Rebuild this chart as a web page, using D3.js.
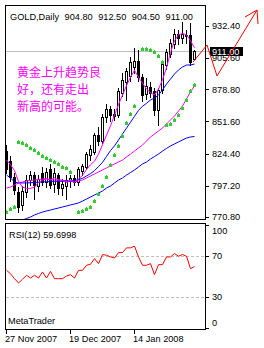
<!DOCTYPE html>
<html>
<head>
<meta charset="utf-8">
<script src="https://cdn.jsdelivr.net/npm/d3@7"></script>
<style>
body { margin: 0; background: #fff; }
svg { display: block; }
</style>
</head>
<body>
<script>
// daily gold bars, 27 Nov 2007 .. 4 Feb 2008
const opens  = [827,818,805,792,781,792,802,806,797,808,800,811,799,806,795,797,801,804,800,810,813,823,826,840,835,855,862,858,857,876,885,890,898,903,889,875,881,877,861,878,899,909,917,926,922,924,925,904.8];
const highs  = [832,822,808,796,797,806,810,809,806,813,812,816,812,808,803,806,806,806,813,816,826,832,842,847,858,866,865,862,880,893,897,906,914,912,892,888,885,880,880,903,913,921,930,929,936,929,935,912.5];
const lows   = [808,801,790,775,777,788,798,786,793,798,796,795,792,790,789,786,796,798,798,806,811,819,824,832,833,851,852,853,855,873,870,886,893,886,869,871,872,857,849,876,896,906,914,917,918,918,899,904.5];
const closes = [811,805,794,779,793,802,806,798,803,800,809,798,808,795,799,802,804,800,811,814,824,828,840,835,855,862,857,856,877,887,894,902,903,889,874,882,876,861,878,900,910,918,926,922,926,925,902,911];

// moving averages as drawn
const maFast = [819,815,810,801,796,795,795,796,800,802,803,802,804,802,802,800,802,800,803,806,811,815,818,824,832,840,848,857,866,874,882,889,895,889,884,879,876,874,879,887,897,910,920,925,926,925,920,914];
const maMid  = [806.3,803.8,800.4,799.6,799.6,799.6,799.8,800,800.2,800.4,800.6,800.8,801,801,801,801.2,801.4,801.6,802.5,803.5,805.5,807.5,810,813.5,817,822,827,831,836,841,846,851,856,861,864.5,867,869.8,871.5,874,878.3,883.3,887.5,891.8,895.2,897.7,899.4,899.4,900.2];
const maSlow = [795.3,796.2,797.9,799.6,800.4,801.3,801.7,802.1,802.5,803,803,802.5,802.1,802.1,801.7,801.3,800.9,800.4,801.3,802.1,803.8,805.5,807.2,808.9,810.6,812.3,814,815.7,817.3,819,821.6,824.1,826.6,829.2,831.7,835.1,838.5,841,843.6,846.1,849.5,852.9,856.3,860.5,864.7,870.6,876.6,881.6];
const maLong = [764,765.7,766.6,767.4,768.3,769.5,770.8,772.5,773.8,775,775.9,776.7,777.6,778.4,779.3,780.1,781,781.8,782.7,784.3,786,787.7,789.4,791.1,792.8,795.3,797,799.6,802.1,803.8,806.3,808.4,810.6,813.1,815.7,817.3,819.9,822,824.1,826.6,828.8,830.9,832.6,834.3,836,837.6,838.5,838.9];

// parabolic SAR dots (null = none visible)
const sar = [775,777.6,779.3,834.5,833.7,831.7,829.2,827.5,825,822.4,820.7,819,817.3,815.7,813.1,812.3,808.9,null,775,775.9,777.6,779.3,784.3,790.3,797,804.7,814.8,823.3,830.9,839.3,850.3,857.9,864.7,null,912.9,912.9,912.1,910.4,907,901.9,848.6,849.5,852.9,857.1,863,869.8,877.4,882.5];

// RSI(12)
const rsi = [56,52.7,47.9,43.7,47.3,51.2,48.5,51.2,48.5,54.4,48.5,55,47.9,47.9,47.9,50.5,51.8,48.5,56,56,60.9,61.9,67.4,62.5,71.3,70.7,69,68,73.2,73.2,77.8,77.8,79.5,69,60.9,60.9,62.5,51.8,61.5,61.5,69,69,72.3,69.7,71.3,69.7,57.6,59.7];

const priceTicks = [932.40, 905.60, 878.80, 851.60, 824.40, 797.20, 770.80];
const rsiTicks = [100, 70, 30, 0];
const rsiLevels = [70, 30];
const dateTicks = [0, 16, 32];
const dateLabels = ["27 Nov 2007", "19 Dec 2007", "14 Jan 2008"];
const header = ["GOLD,Daily", "904.80", "912.50", "904.50", "911.00"];
const lastPrice = 911.00;
const note = ["黄金上升趋势良", "好，还有走出", "新高的可能。"];
// hand drawn arrow: [bar, price]
const arrow = [[46.75,901.9],[50.25,916.3],[52.75,890.1],[62.75,945.9]];
const arrowHead = [[59.75,940.0],[62.75,945.9],[63,934.1]];

const W = 264, H = 348;
const main = {l: 5.5, r: 205.5, t: 5.5, b: 219.5};
const sub = {t: 223.5, b: 329.5};

const x = d3.scaleLinear().domain([0, 47]).range([6, 194]);
const y = d3.scaleLinear().domain([770.8, 932.4]).range([217, 26]);
const yr = d3.scaleLinear().domain([0, 100]).range([328, 225]);
const px = v => Math.round(x(v));
const py = v => Math.round(y(v));

const svg = d3.select("body").append("svg")
    .attr("width", W)
    .attr("height", H)
    .style("font-family", "'Liberation Sans', Arial, sans-serif")
    .style("font-size", "9.2px");

const defs = svg.append("defs");
defs.append("clipPath").attr("id", "clipMain")
  .append("rect").attr("x", main.l + 0.5).attr("y", main.t + 0.5)
    .attr("width", main.r - main.l - 1).attr("height", main.b - main.t - 1);
defs.append("clipPath").attr("id", "clipSub")
  .append("rect").attr("x", main.l + 0.5).attr("y", sub.t + 0.5)
    .attr("width", main.r - main.l - 1).attr("height", sub.b - sub.t - 1);

// last price line
svg.append("line")
    .attr("x1", main.l).attr("x2", 210)
    .attr("y1", py(lastPrice) + 0.5).attr("y2", py(lastPrice) + 0.5)
    .attr("stroke", "#c0c0c0");

const bars = closes.map((c, i) => ({i, o: opens[i], h: highs[i], l: lows[i], c}));

const cg = svg.append("g")
    .attr("clip-path", "url(#clipMain)")
    .attr("shape-rendering", "crispEdges");

cg.selectAll("line")
  .data(bars)
  .join("line")
    .attr("x1", d => px(d.i) + 0.5)
    .attr("x2", d => px(d.i) + 0.5)
    .attr("y1", d => py(d.h))
    .attr("y2", d => py(d.l) + 1)
    .attr("stroke", "#000");

cg.selectAll("rect")
  .data(bars)
  .join("rect")
    .attr("x", d => px(d.i) - 0.5)
    .attr("width", 2)
    .attr("y", d => Math.min(py(d.o), py(d.c)) + 0.5)
    .attr("height", d => Math.max(1, Math.abs(py(d.o) - py(d.c))))
    .attr("fill", d => d.c >= d.o ? "#fff" : "#000")
    .attr("stroke", "#000");

// moving averages
const lg = svg.append("g")
    .attr("clip-path", "url(#clipMain)")
    .attr("fill", "none");

const maLine = d3.line()
    .x((v, i) => x(i) + 0.5)
    .y(v => y(v));

[[maLong, "#0000ff"], [maSlow, "#ff00ff"], [maMid, "#0000ff"], [maFast, "#ff00ff"]].forEach(([s, c]) => {
  lg.append("path")
      .attr("d", maLine(s))
      .attr("stroke", c)
      .attr("stroke-width", 1);
});

// SAR dots
svg.append("g")
    .attr("clip-path", "url(#clipMain)")
    .attr("shape-rendering", "crispEdges")
  .selectAll("path")
  .data(sar.map((v, i) => ({i, v})).filter(d => d.v != null))
  .join("path")
    .attr("d", d => {
      const X = px(d.i), Y = py(d.v);
      return `M${X},${Y - 2}h1v1h1v3h-3v-3h1z`;
    })
    .attr("fill", "#33cc33");

// frames
svg.append("rect")
    .attr("x", main.l).attr("y", main.t)
    .attr("width", main.r - main.l).attr("height", main.b - main.t)
    .attr("fill", "none").attr("stroke", "#000")
    .attr("shape-rendering", "crispEdges");
svg.append("rect")
    .attr("x", main.l).attr("y", sub.t)
    .attr("width", main.r - main.l).attr("height", sub.b - sub.t)
    .attr("fill", "none").attr("stroke", "#000")
    .attr("shape-rendering", "crispEdges");

// price axis
const pa = svg.append("g");
pa.selectAll("line")
  .data(priceTicks)
  .join("line")
    .attr("x1", main.r).attr("x2", 209)
    .attr("y1", d => py(d) + 0.5).attr("y2", d => py(d) + 0.5)
    .attr("stroke", "#000")
    .attr("shape-rendering", "crispEdges");
pa.selectAll("text")
  .data(priceTicks)
  .join("text")
    .attr("x", 212)
    .attr("y", d => y(d))
    .attr("dy", "0.36em")
    .text(d => d.toFixed(2));

// last price box
svg.append("rect")
    .attr("x", 210).attr("y", py(lastPrice) - 4)
    .attr("width", 33).attr("height", 9)
    .attr("fill", "#000");
svg.append("text")
    .attr("x", 212).attr("y", y(lastPrice))
    .attr("dy", "0.36em")
    .attr("fill", "#fff")
    .text(lastPrice.toFixed(2));

// header
svg.append("text")
    .attr("x", 10)
    .attr("y", 19.5)
    .attr("word-spacing", "3px")
    .text(header.join(" "));

// note
svg.append("g")
    .style("font-family", "'Noto Sans CJK SC', sans-serif")
    .style("font-size", "12px")
    .attr("fill", "#ff00ff")
  .selectAll("text")
  .data(note)
  .join("text")
    .attr("x", 17)
    .attr("y", (d, i) => 76.5 + i * 17)
    .text(d => d);

// RSI panel
const rg = svg.append("g").attr("clip-path", "url(#clipSub)");
rg.selectAll("line")
  .data(rsiLevels)
  .join("line")
    .attr("x1", main.l).attr("x2", main.r)
    .attr("y1", d => Math.round(yr(d)) + 0.5).attr("y2", d => Math.round(yr(d)) + 0.5)
    .attr("stroke", "#c0c0c0")
    .attr("stroke-dasharray", "3,2")
    .attr("shape-rendering", "crispEdges");
rg.append("path")
    .attr("d", d3.line().x((v, i) => x(i) + 0.5).y(v => yr(v))(rsi))
    .attr("fill", "none")
    .attr("stroke", "#ff0000");

const ra = svg.append("g");
ra.selectAll("line")
  .data(rsiTicks)
  .join("line")
    .attr("x1", main.r).attr("x2", 209)
    .attr("y1", d => Math.round(yr(d)) + 0.5).attr("y2", d => Math.round(yr(d)) + 0.5)
    .attr("stroke", "#000")
    .attr("shape-rendering", "crispEdges");
ra.selectAll("text")
  .data(rsiTicks)
  .join("text")
    .attr("x", 212)
    .attr("y", d => Math.min(Math.max(yr(d), sub.t + 7.5), sub.b - 6.5))
    .attr("dy", "0.36em")
    .text(d => d);

svg.append("text")
    .attr("x", 9).attr("y", 237.5)
    .text(`RSI(12) ${59.6998}`);
svg.append("text")
    .attr("x", 8).attr("y", 324)
    .text("MetaTrader");

// time axis
const ta = svg.append("g");
ta.selectAll("line")
  .data(dateTicks)
  .join("line")
    .attr("x1", d => px(d) + 0.5).attr("x2", d => px(d) + 0.5)
    .attr("y1", sub.b).attr("y2", sub.b + 4)
    .attr("stroke", "#000")
    .attr("shape-rendering", "crispEdges");
ta.selectAll("text")
  .data(dateTicks)
  .join("text")
    .attr("x", d => px(d) - 1)
    .attr("y", 341.5)
    .text((d, i) => dateLabels[i]);

// hand drawn arrow
const al = d3.line().x(d => x(d[0])).y(d => y(d[1]));
svg.append("path")
    .attr("d", al(arrow))
    .attr("fill", "none")
    .attr("stroke", "#ff0000");
svg.append("path")
    .attr("d", al(arrowHead))
    .attr("fill", "none")
    .attr("stroke", "#ff0000");
</script>
</body>
</html>
